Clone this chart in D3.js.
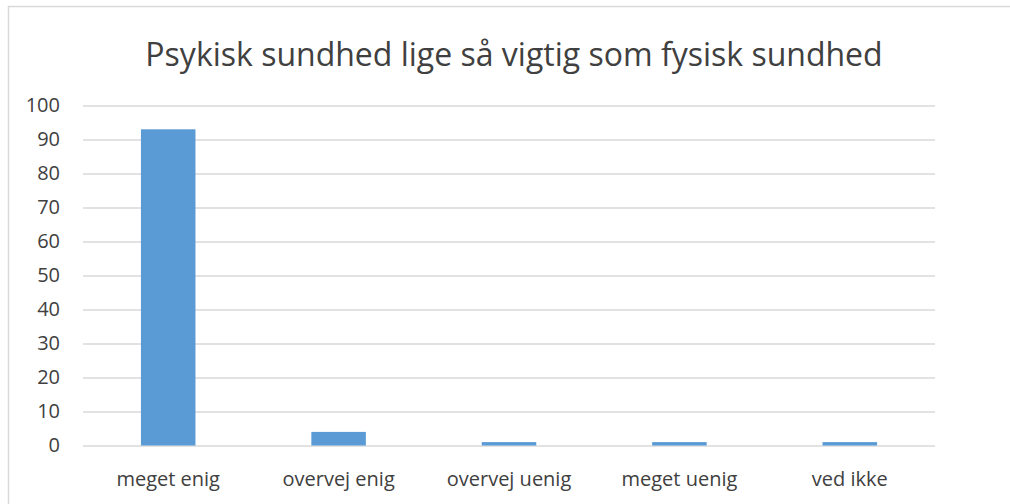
<!DOCTYPE html>
<html>
<head>
<meta charset="utf-8">
<script src="https://cdn.jsdelivr.net/npm/d3@7"></script>
<style>
  body { margin: 0; background: #fff; }
  text { font-family: "Open Sans", "Liberation Sans", sans-serif; }
</style>
</head>
<body>
<div id="chart"></div>
<script>
// chart data
const categories = ["meget enig", "overvej enig", "overvej uenig", "meget uenig", "ved ikke"];
const values = [93, 4, 1, 1, 1];
const yTicks = [0, 10, 20, 30, 40, 50, 60, 70, 80, 90, 100];
const title = "Psykisk sundhed lige så vigtig som fysisk sundhed";

const width = 1010, height = 504;
const margin = {top: 105.5, right: 75, bottom: 58.5, left: 83};

const BAR_COLOR = "#5b9bd5";
const GRID_COLOR = "#d9d9d9";
const TEXT_COLOR = "#404040";

let svg = d3.select("#chart")
    .append("svg")
    .attr("width", width)
    .attr("height", height);

// outer frame (left + top edge only visible)
svg.append("path")
    .attr("d", `M8.5,${height} V6.5 H${width}`)
    .attr("fill", "none")
    .attr("stroke", GRID_COLOR)
    .attr("stroke-width", 1.5);

let g = svg.append("g")
    .attr("transform", `translate(${margin.left}, ${margin.top})`);

let plotW = width - margin.left - margin.right;
let plotH = height - margin.top - margin.bottom;

let x = d3.scaleBand()
    .domain(categories)
    .range([0, plotW])
    .paddingInner(0.68)
    .paddingOuter(0.34);

let y = d3.scaleLinear()
    .domain([0, 100])
    .range([plotH, 0]);

// gridlines
g.append("g")
    .call(d3.axisLeft(y).tickValues(yTicks).tickSize(-plotW).tickFormat(""))
    .call(a => a.select(".domain").remove())
    .selectAll("line")
    .attr("stroke", GRID_COLOR)
    .attr("stroke-width", 1.3);

// y tick labels
g.append("g")
    .attr("transform", "translate(-23, 0)")
    .call(d3.axisLeft(y).tickValues(yTicks).tickSize(0).tickPadding(0))
    .call(a => a.select(".domain").remove())
    .selectAll("text")
    .style("font-size", "20px")
    .attr("fill", TEXT_COLOR);

// bars
g.selectAll(".bar")
    .data(values)
    .enter()
    .append("rect")
    .attr("class", "bar")
    .attr("fill", BAR_COLOR)
    .attr("x", (d, i) => x(categories[i]))
    .attr("width", x.bandwidth())
    .attr("y", d => y(d))
    .attr("height", d => y(0) - y(d));

// x labels
g.append("g")
    .attr("transform", `translate(0, ${plotH})`)
    .call(d3.axisBottom(x).tickSize(0).tickPadding(26))
    .call(a => a.select(".domain").remove())
    .selectAll("text")
    .style("font-size", "20px")
    .attr("fill", TEXT_COLOR);

// title
svg.append("text")
    .attr("x", 514)
    .attr("y", 66)
    .style("text-anchor", "middle")
    .style("font-size", "32px")
    .attr("fill", TEXT_COLOR)
    .text(title);
</script>
</body>
</html>
